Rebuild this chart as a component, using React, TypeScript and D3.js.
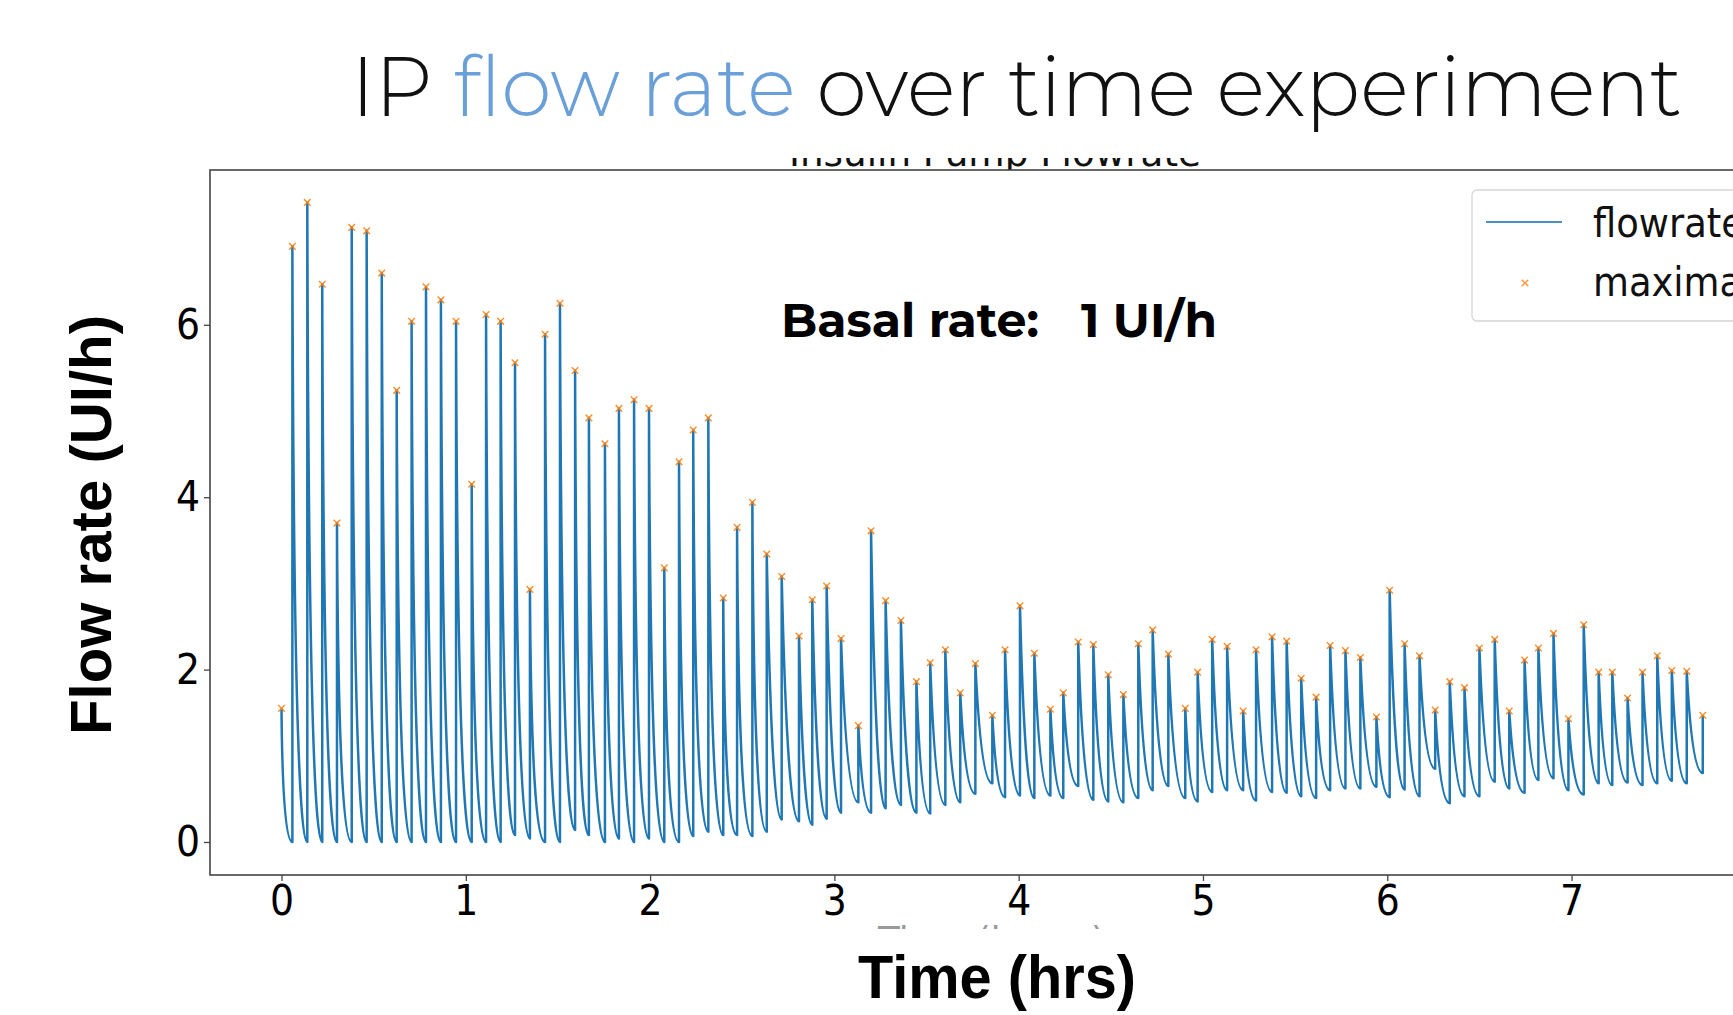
import React, { useRef, useEffect } from 'react';
import * as d3 from 'd3';

// pulse peaks (hours, UI/h)
const peakTimes = [
  0.0, 0.059, 0.14, 0.221, 0.301, 0.381, 0.462, 0.544, 0.625, 0.706,
  0.784, 0.865, 0.947, 1.032, 1.11, 1.189, 1.267, 1.348, 1.43, 1.511,
  1.593, 1.668, 1.755, 1.831, 1.913, 1.994, 2.077, 2.157, 2.234, 2.316,
  2.397, 2.472, 2.555, 2.633, 2.714, 2.808, 2.88, 2.958, 3.036, 3.13,
  3.199, 3.278, 3.361, 3.445, 3.52, 3.602, 3.683, 3.765, 3.857, 3.926,
  4.007, 4.085, 4.172, 4.242, 4.323, 4.405, 4.486, 4.568, 4.649, 4.727,
  4.812, 4.904, 4.971, 5.05, 5.131, 5.218, 5.288, 5.375, 5.454, 5.533,
  5.614, 5.69, 5.773, 5.854, 5.941, 6.013, 6.094, 6.175, 6.26, 6.339,
  6.419, 6.5, 6.583, 6.662, 6.745, 6.82, 6.902, 6.983, 7.066, 7.147,
  7.221, 7.304, 7.385, 7.465, 7.544, 7.625, 7.712
];

const peakValues = [
  1.55, 6.91, 7.42, 6.47, 3.7, 7.13, 7.09, 6.6, 5.24, 6.04,
  6.44, 6.29, 6.04, 4.15, 6.12, 6.04, 5.56, 2.93, 5.89, 6.25,
  5.47, 4.92, 4.62, 5.03, 5.13, 5.03, 3.18, 4.41, 4.78, 4.92,
  2.83, 3.65, 3.94, 3.34, 3.08, 2.39, 2.81, 2.97, 2.36, 1.35,
  3.61, 2.8, 2.57, 1.86, 2.08, 2.23, 1.73, 2.07, 1.47, 2.23,
  2.74, 2.19, 1.54, 1.73, 2.32, 2.29, 1.94, 1.71, 2.3, 2.46,
  2.18, 1.55, 1.97, 2.35, 2.27, 1.52, 2.23, 2.38, 2.33, 1.9,
  1.68, 2.28, 2.22, 2.14, 1.45, 2.92, 2.3, 2.16, 1.53, 1.86,
  1.79, 2.25, 2.35, 1.52, 2.11, 2.25, 2.42, 1.43, 2.52, 1.97,
  1.97, 1.67, 1.97, 2.16, 1.99, 1.98, 1.47
];

// lowest flow reached after each pulse, just before the next one
const troughValues = [
  0, 0, 0, 0, 0, 0, 0, 0, 0, 0,
  0, 0, 0, 0, 0, 0.08, 0.04, 0, 0, 0.14,
  0.08, 0, 0.04, 0, 0.04, 0, 0, 0.07, 0.12, 0.08,
  0.08, 0.07, 0.12, 0.26, 0.24, 0.2, 0.27, 0.34, 0.46, 0.34,
  0.39, 0.43, 0.34, 0.33, 0.43, 0.46, 0.56, 0.68, 0.52, 0.54,
  0.51, 0.54, 0.51, 0.65, 0.49, 0.47, 0.46, 0.51, 0.6, 0.65,
  0.51, 0.47, 0.58, 0.6, 0.6, 0.48, 0.58, 0.57, 0.53, 0.51,
  0.6, 0.62, 0.62, 0.64, 0.52, 0.61, 0.53, 0.85, 0.45, 0.53,
  0.53, 0.7, 0.62, 0.57, 0.72, 0.74, 0.6, 0.55, 0.68, 0.66,
  0.69, 0.66, 0.68, 0.71, 0.68, 0.8
];

const xTicks = [0, 1, 2, 3, 4, 5, 6, 7];
const yTicks = [0, 2, 4, 6];
const legendLabels = ['flowrate', 'maxima'];

const LINE_COLOR = '#1f77b4';
const MARK_COLOR = '#ff7f0e';

const App = () => {
  const svgRef = useRef<SVGSVGElement>(null);

  useEffect(() => {
    const svg = d3.select(svgRef.current);
    svg.selectAll('*').remove();

    const width = 1733;
    const height = 1015;
    const left = 210, top = 170, bottom = 875;

    svg.attr('width', width).attr('height', height);
    svg.append('rect').attr('width', width).attr('height', height).attr('fill', '#fff');

    const x = d3.scaleLinear().domain([-0.388, 7.876]).range([left, width]);
    const y = d3.scaleLinear().domain([-0.383, 7.796]).range([bottom, top]);

    const defs = svg.append('defs');
    defs.append('clipPath').attr('id', 'titleClip')
      .append('rect').attr('x', 0).attr('y', 158).attr('width', width).attr('height', 12);
    defs.append('clipPath').attr('id', 'xlabClip')
      .append('rect').attr('x', 0).attr('y', 924).attr('width', width).attr('height', 5);

    // slide title
    const title = svg.append('text')
      .attr('x', 351).attr('y', 116)
      .attr('textLength', 1331).attr('lengthAdjust', 'spacingAndGlyphs')
      .style('font-family', "Montserrat, 'Open Sans', Lato, sans-serif")
      .style('font-weight', 300)
      .style('font-size', '84px');
    title.append('tspan').attr('fill', '#111').text('IP ');
    title.append('tspan').attr('fill', '#6a9fd8').text('flow rate');
    title.append('tspan').attr('fill', '#111').text(' over time experiment');

    // original plot title, mostly hidden behind the slide title area
    svg.append('text')
      .attr('x', 789).attr('y', 166)
      .attr('textLength', 412).attr('lengthAdjust', 'spacingAndGlyphs')
      .attr('clip-path', 'url(#titleClip)')
      .style('font-family', "'DejaVu Sans', sans-serif")
      .style('font-size', '37px')
      .attr('fill', '#111')
      .text('Insulin Pump Flowrate');

    // flow line: vertical rise to each peak, decay towards the next trough
    const p = d3.path();
    p.moveTo(x(peakTimes[0]), y(peakValues[0]));
    for (let i = 0; i < peakTimes.length - 1; i++) {
      const t0 = peakTimes[i];
      const t1 = peakTimes[i + 1];
      const b = troughValues[i];
      const k = b < 0.2 ? 0.1 : 0.33;
      p.quadraticCurveTo(x(t0 + (t1 - t0) * k), y(b), x(t1), y(b));
      p.lineTo(x(t1), y(peakValues[i + 1]));
    }
    svg.append('path')
      .attr('d', p.toString())
      .attr('fill', 'none')
      .attr('stroke', LINE_COLOR)
      .attr('stroke-width', 2.5)
      .attr('stroke-linejoin', 'round');

    const cross = d3.symbol(d3.symbolTimes, 30);
    svg.append('g').selectAll('path')
      .data(peakTimes)
      .enter().append('path')
      .attr('transform', (d, i) => `translate(${x(d)},${y(peakValues[i])})`)
      .attr('d', cross())
      .attr('fill', 'none')
      .attr('stroke', MARK_COLOR)
      .attr('stroke-width', 1.5)
      .attr('opacity', 0.85);

    // axes frame (right edge is cut off in the picture)
    svg.append('rect')
      .attr('x', left).attr('y', top)
      .attr('width', width + 20 - left).attr('height', bottom - top)
      .attr('fill', 'none').attr('stroke', '#444').attr('stroke-width', 1.6);

    const tickFont = "'DejaVu Sans Condensed', 'DejaVu Sans', sans-serif";

    const yAxis = svg.append('g')
      .attr('transform', `translate(${left},0)`)
      .call(d3.axisLeft(y).tickValues(yTicks).tickSize(6).tickPadding(4).tickFormat(d3.format('d')));
    yAxis.select('.domain').remove();
    yAxis.selectAll('line').attr('stroke', '#444').attr('stroke-width', 1.3);
    yAxis.selectAll('text')
      .attr('fill', '#000')
      .style('font-family', tickFont)
      .style('font-size', '42px');

    const xAxis = svg.append('g')
      .attr('transform', `translate(0,${bottom})`)
      .call(d3.axisBottom(x).tickValues(xTicks).tickSize(6).tickPadding(4).tickFormat(d3.format('d')));
    xAxis.select('.domain').remove();
    xAxis.selectAll('line').attr('stroke', '#444').attr('stroke-width', 1.3);
    xAxis.selectAll('text')
      .attr('fill', '#000')
      .style('font-family', tickFont)
      .style('font-size', '42px');

    // original x label peeking out under the ticks
    svg.append('text')
      .attr('x', 878).attr('y', 952)
      .attr('textLength', 227).attr('lengthAdjust', 'spacingAndGlyphs')
      .attr('clip-path', 'url(#xlabClip)')
      .style('font-family', "'DejaVu Sans', sans-serif")
      .style('font-size', '36px')
      .attr('fill', '#999')
      .text('Time (hours)');

    // axis labels
    svg.append('text')
      .attr('transform', 'translate(111,525) rotate(-90)')
      .attr('text-anchor', 'middle')
      .attr('textLength', 420).attr('lengthAdjust', 'spacingAndGlyphs')
      .style('font-family', "'Liberation Sans', Arial, sans-serif")
      .style('font-weight', 700)
      .style('font-size', '57px')
      .attr('fill', '#000')
      .text('Flow rate (UI/h)');

    svg.append('text')
      .attr('x', 858).attr('y', 998)
      .attr('textLength', 278).attr('lengthAdjust', 'spacingAndGlyphs')
      .style('font-family', "'Liberation Sans', Arial, sans-serif")
      .style('font-weight', 700)
      .style('font-size', '62px')
      .attr('fill', '#000')
      .text('Time (hrs)');

    // annotation
    const annFont = "Montserrat, Inter, 'Noto Sans', sans-serif";
    svg.append('text')
      .attr('x', 781).attr('y', 337)
      .attr('textLength', 258).attr('lengthAdjust', 'spacingAndGlyphs')
      .style('font-family', annFont).style('font-weight', 700).style('font-size', '47px')
      .attr('fill', '#000')
      .text('Basal rate:');
    svg.append('text')
      .attr('x', 1081).attr('y', 337)
      .attr('textLength', 136).attr('lengthAdjust', 'spacingAndGlyphs')
      .style('font-family', annFont).style('font-weight', 700).style('font-size', '47px')
      .attr('fill', '#000')
      .text('1 UI/h');

    // legend
    const lg = svg.append('g');
    lg.append('rect')
      .attr('x', 1472).attr('y', 190)
      .attr('width', 320).attr('height', 131)
      .attr('rx', 5)
      .attr('fill', '#fff')
      .attr('stroke', '#d6d6d6').attr('stroke-width', 1.3);
    lg.append('line')
      .attr('x1', 1486).attr('x2', 1562).attr('y1', 222).attr('y2', 222)
      .attr('stroke', LINE_COLOR).attr('stroke-width', 2).attr('opacity', 0.8);
    lg.append('path')
      .attr('transform', 'translate(1525,283)')
      .attr('d', cross())
      .attr('fill', 'none').attr('stroke', MARK_COLOR).attr('stroke-width', 1.3).attr('opacity', 0.85);
    lg.selectAll('text.lab')
      .data(legendLabels)
      .enter().append('text')
      .attr('class', 'lab')
      .attr('x', 1593)
      .attr('y', (d, i) => 237 + i * 59)
      .style('font-family', tickFont)
      .style('font-size', '41px')
      .attr('fill', '#111')
      .text(d => d);
  }, []);

  return (
    <div style={{ position: 'absolute', left: 0, top: 0, width: '1733px', height: '1015px', overflow: 'hidden' }}>
      <svg ref={svgRef}></svg>
    </div>
  );
};

export default App;
